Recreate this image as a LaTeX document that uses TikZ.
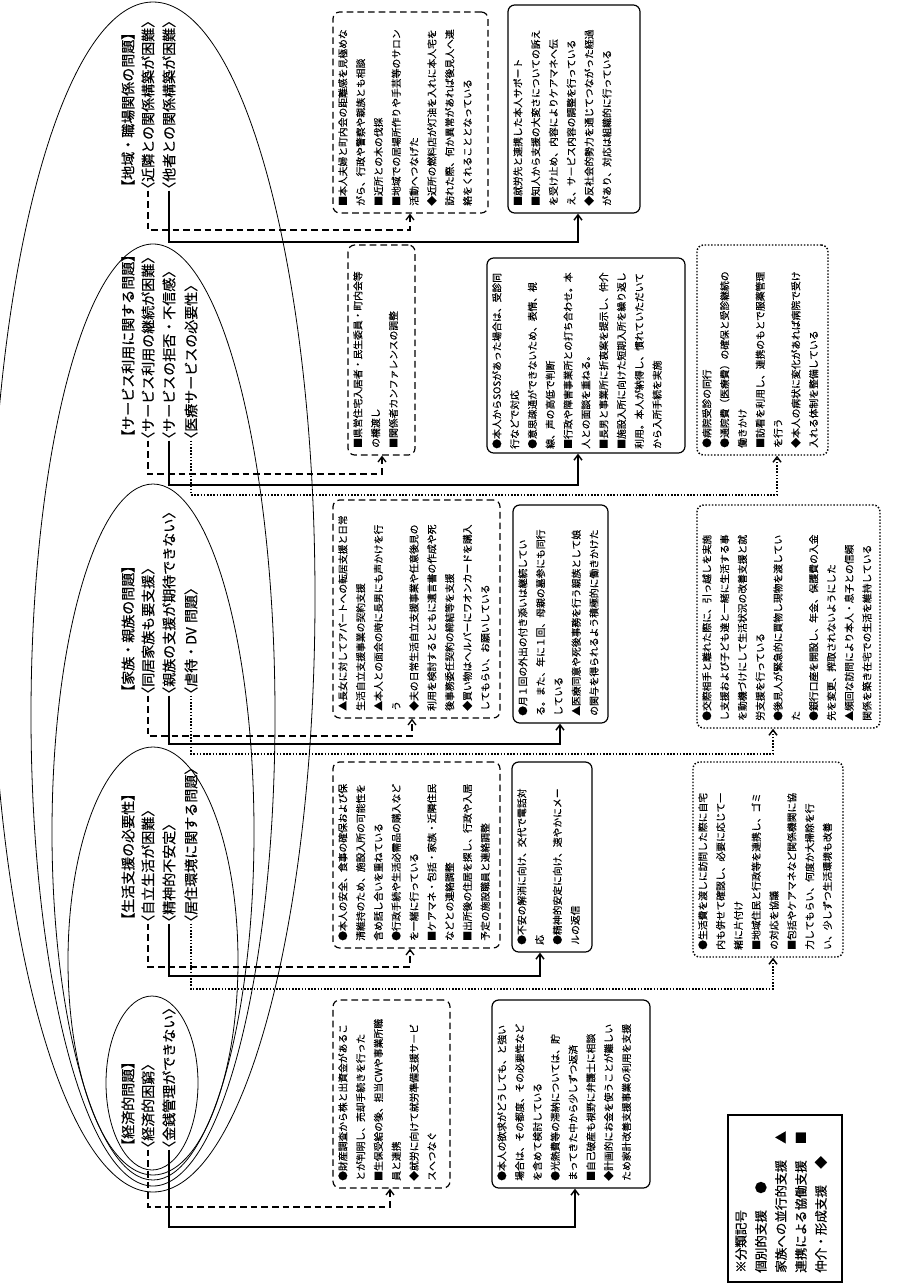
\documentclass[tikz,border=0pt]{standalone}
\usepackage{fontspec}
\setmainfont{Noto Sans CJK JP}
\usetikzlibrary{arrows.meta,fit}
\XeTeXlinebreaklocale "ja"
\XeTeXlinebreakskip=0pt
\newlength\jwid
\newcommand\jl[1]{{\XeTeXlinebreakskip=0pt plus 1fil\makebox[\jwid][s]{#1}}}
\begin{document}
\begin{tikzpicture}[x=0.75pt,y=-0.75pt,
  hdr/.style={rotate=90,anchor=west,inner sep=0pt,font=\fontsize{10.5pt}{13pt}\selectfont\addfontfeatures{FakeBold=0.35}},
  htl/.style={hdr,font=\fontsize{10.5pt}{13pt}\selectfont\addfontfeatures{FakeBold=0.6}},
  btxt/.style={rotate=90,anchor=north west,inner sep=0pt,align=left,font=\fontsize{7.35pt}{13.35pt}\selectfont\addfontfeatures{FakeBold=0.15}},
  jw/.code={\global\jwid=\dimexpr #1pt*3/4\relax},
  boxd/.style={draw,rounded corners=5pt,line width=0.9pt,dash pattern=on 5pt off 3pt,inner sep=0pt},
  boxs/.style={draw,rounded corners=5pt,line width=0.9pt,inner sep=0pt},
  boxo/.style={draw,rounded corners=5pt,line width=1.1pt,dash pattern=on 1.1pt off 1.3pt,inner sep=0pt},
  cnd/.style={line width=1pt,dash pattern=on 5pt off 3pt,shorten <=-4pt,-{Straight Barb[length=4pt,width=6pt]}},
  cns/.style={line width=1.1pt,shorten <=-4pt,-{Straight Barb[length=4pt,width=6pt]}},
  cno/.style={line width=1.1pt,dash pattern=on 1.1pt off 1.3pt,shorten <=-4pt,-{Straight Barb[length=4pt,width=6pt]}},
  ell/.style={line width=0.6pt}
]
\useasboundingbox (0,0) rectangle (897,1284);
\fill[white] (0,0) rectangle (897,1284);

% nested ellipses
\draw[ell] (153,597) ellipse [x radius=121.5pt, y radius=446.25pt];
\draw[ell] (153,715) ellipse [x radius=91.5pt, y radius=353.25pt];
\draw[ell] (153,832) ellipse [x radius=75.75pt, y radius=261pt];
\draw[ell] (153,961) ellipse [x radius=63.75pt, y radius=160.5pt];
\draw[ell] (152,1083) ellipse [x radius=34.5pt, y radius=65.25pt];

% headers
\node[htl] (g1t) at (128,194) {【地域・職場関係の問題】};
\node[hdr] (g1a) at (148,196) {〈近隣との関係構築が困難〉};
\node[hdr] (g1b) at (169,196) {〈他者との関係構築が困難〉};

\node[htl] (g2t) at (128,444) {【サービス利用に関する問題】};
\node[hdr] (g2a) at (148,446) {〈サービス利用の継続が困難〉};
\node[hdr] (g2b) at (169,446) {〈サービスの拒否・不信感〉};
\node[hdr] (g2c) at (191,446) {〈医療サービスの必要性〉};

\node[htl] (g3t) at (128,699) {【家族・親族の問題】};
\node[hdr] (g3a) at (148,701) {〈同居家族も要支援〉};
\node[hdr] (g3b) at (169,701) {〈親族の支援が期待できない〉};
\node[hdr] (g3c) at (191,701) {〈虐待・DV\hspace{0.3em}問題〉};

\node[htl] (g4t) at (128,927) {【生活支援の必要性】};
\node[hdr] (g4a) at (148,929) {〈自立生活が困難〉};
\node[hdr] (g4b) at (169,929) {〈精神的不安定〉};
\node[hdr] (g4c) at (191,929) {〈居住環境に関する問題〉};

\node[htl] (g5t) at (128,1153) {【経済的問題】};
\node[hdr] (g5a) at (148,1155) {〈経済的困窮〉};
\node[hdr] (g5b) at (169,1155) {〈金銭管理ができない〉};

% ---- boxes row 1 (地域)
\node[boxd, fit={(333,12) (488,213)}] (A1) {};
\node[btxt, jw=187] (tA1) at (338,206) {\jl{■本人夫婦と町内会の距離感を見極めな}\\がら、行政や警察や親族とも相談\\■近所との木の伐採\\\jl{■地域での居場所作りや手芸等のサロン}\\活動へつなげた\\\jl{◆近所の燃料店が灯油を入れに本人宅を}\\\jl{訪れた際、何か異常があれば後見人へ連}\\絡をくれることとなっている};
\node[boxs, fit={(508,5) (640,213)}] (A2) {};
\node[btxt, jw=194] (tA2) at (513,206) {■就労先と連携した本人サポート\\\jl{■知人から支援の大変さについての訴え}\\\jl{を受け止め、内容によりケアマネへ伝}\\え、サービス内容の調整を行っている\\\jl{◆反社会的勢力を通じてつながった経過}\\があり、対応は組織的に行っている};

% ---- row 2 (サービス)
\node[boxd, fit={(348,245) (415,455)}] (B1) {};
\node[btxt, jw=196] (tB1) at (353,448) {\jl{■県営住宅入居者・民生委員・町内会等}\\の橋渡し\\■関係者カンファレンスの調整};
\node[boxs, fit={(487,258) (685,453)}] (B2) {};
\node[btxt, jw=187] (tB2) at (492,449) {\jl{●本人からSOSがあった場合は、受診同}\\行などで対応\\\jl{●意思疎通ができないため、表情、視}\\線、声の高低で判断\\\jl{■行政や障害事業所との打ち合わせ。本}\\人との面談を重ねる。\\■長男と事業所に折衷案を提示し、仲介\\\jl{■施設入所に向けた短期入所を繰り返し}\\\jl{利用。本人が納得し、慣れていただいて}\\から入所手続を実施};
\node[boxo, fit={(697,245) (828,455)}] (B3) {};
\node[btxt, jw=196] (tB3) at (702,448) {●病院受診の同行\\\jl{●通院費（医療費）の確保と受診継続の}\\働きかけ\\\jl{■訪看を利用し、連携のもとで服薬管理}\\を行う\\\jl{◆本人の病状に変化があれば病院で受け}\\入れる体制を整備している};

% ---- row 3 (家族)
\node[boxd, fit={(333,500) (500,718)}] (C1) {};
\node[btxt, jw=204] (tC1) at (338,711) {\jl{▲長女に対してアパートへの転居支援と日常}\\生活自立支援事業の契約支援\\\jl{▲本人との面会の時に長男にも声かけを行}\\う\\\jl{◆夫の日常生活自立支援事業や任意後見の}\\\jl{利用を検討するとともに遺言書の作成や死}\\後事務委任契約の締結等を支援\\\jl{◆買い物はヘルパーにワオンカードを購入}\\してもらい、お願いしている};
\node[boxs, fit={(513,505) (608,723)}] (C2) {};
\node[btxt, jw=204] (tC2) at (518,716) {\jl{●月１回の外出の付き添いは継続してい}\\\jl{る。また、年に１回、母親の墓参にも同行}\\している\\\jl{▲医療同意や死後事務を行う親族として娘}\\の関与を得られるよう積極的に働きかけた};
\node[boxo, fit={(697,505) (880,728)}] (C3) {};
\node[btxt, jw=209] (tC3) at (702,721) {\jl{●交際相手と離れた際に、引っ越しを実施}\\\jl{し支援および子ども達と一緒に生活する事}\\\jl{を動機づけにして生活状況の改善支援と就}\\労支援を行っている\\\jl{●後見人が緊急的に買物し現物を渡してい}\\た\\\jl{●銀行口座を開設し、年金、保護費の入金}\\先を変更、搾取されないようにした\\\jl{▲頻回な訪問により本人・息子との信頼}\\関係を築き在宅での生活を維持している};

% ---- row 4 (生活)
\node[boxd, fit={(333,762) (500,948)}] (D1) {};
\node[btxt, jw=172] (tD1) at (338,941) {\jl{●本人の安全、食事の確保および保}\\\jl{清維持のため、施設入所の可能性を}\\含め話し合いを重ねている\\\jl{●行政手続や生活必需品の購入など}\\を一緒に行っている\\\jl{■ケアマネ・包括・家族・近隣住民}\\などとの連絡調整\\\jl{■出所後の住居を探し、行政や入居}\\予定の施設職員と連絡調整};
\node[boxs, fit={(512,762) (592,952)}] (D2) {};
\node[btxt, jw=176] (tD2) at (517,945) {\jl{●不安の解消に向け、交代で電話対}\\応\\\jl{●精神的安定に向け、速やかにメー}\\ルの返信};
\node[boxo, fit={(693,762) (843,957)}] (D3) {};
\node[btxt, jw=181] (tD3) at (698,950) {\jl{●生活費を渡しに訪問した際に自宅}\\\jl{内も併せて確認し、必要に応じて一}\\緒に片付け\\\jl{■地域住民と行政等を連携し、ゴミ}\\の対応を協議\\\jl{■包括やケアマネなど関係機関に協}\\\jl{力してもらい、何度か大掃除を行}\\い、少しずつ生活環境も改善};

% ---- row 5 (経済)
\node[boxd, fit={(333,1000) (450,1188)}] (E1) {};
\node[btxt, jw=174] (tE1) at (338,1181) {\jl{●財産調査から株と出資金があるこ}\\とが判明し、売却手続きを行った\\\jl{■生保受給の後、担当CWや事業所職}\\員と連携\\\jl{◆就労に向けて就労準備支援サービ}\\スへつなぐ};
\node[boxs, fit={(492,1000) (650,1188)}] (E2) {};
\node[btxt, jw=174] (tE2) at (497,1181) {\jl{●本人の欲求がどうしても、と強い}\\\jl{場合は、その都度、その必要性など}\\を含めて検討している\\\jl{●光熱費等の滞納については、貯}\\まってきた中から少しずつ返済\\■自己破産も視野に弁護士に相談\\\jl{◆計画的にお金を使うことが難しい}\\ため家計改善支援事業の利用を支援};

% legend
\node[draw, line width=0.8pt, inner sep=0pt, fit={(728,1115) (842,1282)}] (leg) {};
\node[rotate=90, anchor=north west, inner sep=0pt, align=left, font=\fontsize{9.4pt}{15pt}\selectfont\addfontfeatures{FakeBold=0.5}] (legt) at (735,1273) {※分類記号\\個別的支援\hspace{1.3em}●\\家族への並行的支援\hspace{1.3em}▲\\連携による協働支援\hspace{1.3em}■\\仲介・形成支援\hspace{1.3em}◆};

% connectors
\coordinate (jA1) at (410,230);
\coordinate (jA2) at (578,242);
\coordinate (jB1) at (382,474);
\coordinate (jB2) at (578,485);
\coordinate (jB3) at (777,495);
\coordinate (jC1) at (412,736);
\coordinate (jC2) at (560,744);
\coordinate (jC3) at (773,754);
\coordinate (jD1) at (410,967);
\coordinate (jD2) at (540,976);
\coordinate (jD3) at (773,989);
\coordinate (jE1) at (390,1207);
\coordinate (jE2) at (575,1227);

\draw[cnd] (g1a.west) |- (jA1) -- (jA1 |- A1.south);
\draw[cns] (g1b.west) |- (jA2) -- (jA2 |- A2.south);
\draw[cnd] (g2a.west) |- (jB1) -- (jB1 |- B1.south);
\draw[cns] (g2b.west) |- (jB2) -- (jB2 |- B2.south);
\draw[cno] (g2c.west) |- (jB3) -- (jB3 |- B3.south);
\draw[cnd] (g3a.west) |- (jC1) -- (jC1 |- C1.south);
\draw[cns] (g3b.west) |- (jC2) -- (jC2 |- C2.south);
\draw[cno] (g3c.west) |- (jC3) -- (jC3 |- C3.south);
\draw[cnd] (g4a.west) |- (jD1) -- (jD1 |- D1.south);
\draw[cns] (g4b.west) |- (jD2) -- (jD2 |- D2.south);
\draw[cno] (g4c.west) |- (jD3) -- (jD3 |- D3.south);
\draw[cnd] (g5a.west) |- (jE1) -- (jE1 |- E1.south);
\draw[cns] (g5b.west) |- (jE2) -- (jE2 |- E2.south);
\end{tikzpicture}
\end{document}
